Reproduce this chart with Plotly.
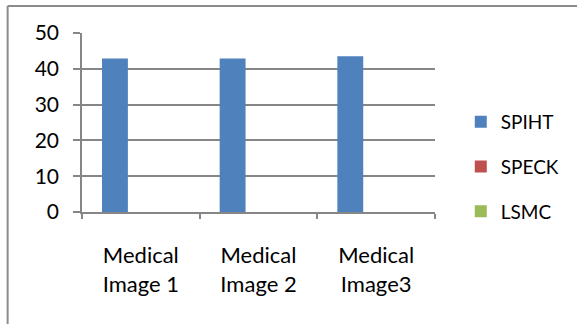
import plotly.graph_objects as go

categories = ["Medical<br>Image 1", "Medical<br>Image 2", "Medical<br>Image3"]
spiht = [42.9, 42.9, 43.5]
speck = [0, 0, 0]
lsmc = [0, 0, 0]
series_names = ["SPIHT", "SPECK", "LSMC"]
series_colors = ["#4F81BD", "#C0504D", "#9BBB59"]
y_ticks = [0, 10, 20, 30, 40, 50]

W, H = 577, 324
L, R, T, B = 82, 139, 33, 112
pw, ph = W - L - R, H - T - B

fig = go.Figure()
for i, (name, vals, col) in enumerate(zip(series_names, [spiht, speck, lsmc], series_colors)):
    fig.add_trace(go.Bar(x=categories, y=vals, name=name, marker=dict(color=col, line=dict(width=0)),
                         legendgroup=name))

FONT = "Lato"
fig.update_layout(
    width=W, height=H,
    margin=dict(l=L, r=R, t=T, b=B, pad=0),
    paper_bgcolor="white", plot_bgcolor="white",
    barmode="group", bargap=0.34, bargroupgap=0,
    font=dict(family=FONT, size=18, color="#000000"),
    showlegend=True,
    legend=dict(x=(464 - L) / pw, y=(212 - 167) / ph, xanchor="left", yanchor="middle",
                font=dict(family=FONT, size=19, color="#000000"), tracegroupgap=17,
                bgcolor="rgba(0,0,0,0)", itemwidth=30),
)
fig.update_xaxes(type="category", showgrid=False, showline=True, linecolor="#868686", linewidth=1.5,
                 ticks="outside", tickson="boundaries", ticklen=5, tickcolor="#868686", tickwidth=1.5,
                 tickfont=dict(family=FONT, size=22), ticklabelstandoff=23)
fig.update_yaxes(range=[0, 50], tickvals=y_ticks, showgrid=True, gridcolor="#868686", gridwidth=1.5,
                 showline=True, linecolor="#868686", linewidth=1.5, ticks="outside", ticklen=7,
                 tickcolor="#868686", tickwidth=1.5, zeroline=False,
                 tickfont=dict(family=FONT, size=21), ticklabelstandoff=10)

# chart area border
bx0 = (7 - L) / pw
ty = (212 - 6) / ph
fig.add_shape(type="line", xref="paper", yref="paper", x0=bx0, x1=2.0, y0=ty, y1=ty,
              line=dict(color="#8c8c8c", width=2))
fig.add_shape(type="line", xref="paper", yref="paper", x0=bx0, x1=bx0, y0=ty, y1=-1.0,
              line=dict(color="#8c8c8c", width=2))

fig.write_html("out.html")
